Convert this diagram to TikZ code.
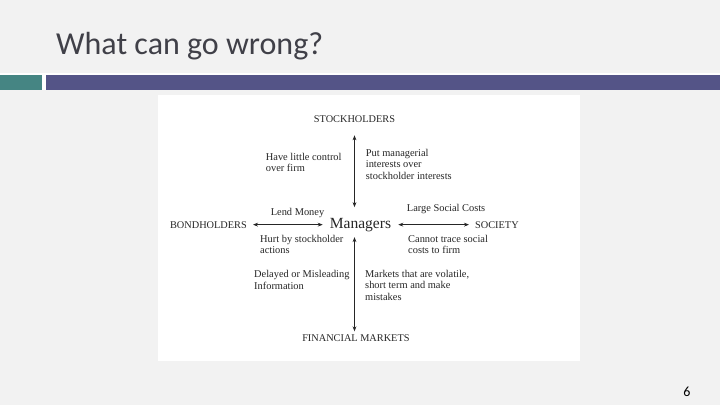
\documentclass[tikz,border=0pt]{standalone}
\usepackage{fontspec}
\setmainfont{Liberation Serif}
\newfontfamily\slidefont{Carlito}
\usetikzlibrary{arrows.meta,positioning}
\definecolor{SlideGray}{HTML}{F2F2F2}
\definecolor{BarTeal}{HTML}{458583}
\definecolor{BarPurple}{HTML}{545487}
\definecolor{TitleGray}{HTML}{404048}
\definecolor{InkGray}{HTML}{262626}

\begin{document}
\begin{tikzpicture}[x=1pt, y=-1pt, every node/.style={inner sep=0pt, text=InkGray}]
\tikzset{party/.style={font=\fontsize{10.3}{11.3}\selectfont, anchor=base}}
\tikzset{note/.style={font=\fontsize{10.4}{11.3}\selectfont, align=left, anchor=north west}}
\tikzset{link/.style={{Stealth[length=5pt,width=3.8pt]}-{Stealth[length=5pt,width=3.8pt]}, line width=0.7pt, draw=InkGray}}
\useasboundingbox (0,0) rectangle (720,405);
% slide background and title bars
\fill[SlideGray] (0,0) rectangle (720,405);
\fill[white] (0,72.5) rectangle (720,75);
\fill[BarTeal] (0,75) rectangle (41.5,90);
\fill[white] (41.5,75) rectangle (46,90);
\fill[BarPurple] (46,75) rectangle (720,90);
\fill[white] (158,95) rectangle (580,361);
\node[anchor=base west, font=\slidefont\fontsize{32}{38}\selectfont, text=TitleGray] (title) at (56,54) {What can go wrong?};
\node[anchor=base, font=\slidefont\fontsize{14}{16}\selectfont, text=black] (page) at (687,396) {6};
% parties
\node[font=\fontsize{15.5}{18}\selectfont, anchor=base] (mgr) at (360.5,228) {Managers};
\node[party] (stock) at (354.5,122.3) {STOCKHOLDERS};
\node[party, anchor=base east] (bond) at (247,228) {BONDHOLDERS};
\node[party, anchor=base west] (society) at (475,228) {SOCIETY};
\node[party] (fin) at (355.9,341.7) {FINANCIAL MARKETS};
% notes
\node[note] (control) at (265.7,153) {Have little control\\over firm};
\node[note] (selfish) at (365.7,149) {Put managerial\\interests over\\stockholder interests};
\node[note, anchor=base] (lend) at (297.5,215) {Lend Money};
\node[note] (hurt) at (260,234.7) {Hurt by stockholder\\actions};
\node[note, anchor=base west] (costs) at (406.7,211.7) {Large Social Costs};
\node[note] (trace) at (408,234.7) {Cannot trace social\\costs to firm};
\node[note] (delay) at (254,270.3) {Delayed or Misleading\\Information};
\node[note] (volatile) at (365,270) {Markets that are volatile,\\short term and make\\mistakes};
% links
\draw[link, shorten <=12.7pt, shorten >=10.5pt] (stock.south) -- (stock.south |- mgr.north);
\draw[link, shorten <=5.6pt, shorten >=3.4pt] (stock.south |- mgr.south) -- (stock.south |- fin.north);
\draw[link, shorten <=6pt, shorten >=7pt] (bond.east) -- (mgr.west |- bond.east);
\draw[link, shorten <=7pt, shorten >=6pt] (mgr.east |- society.west) -- (society.west);
\end{tikzpicture}
\end{document}
